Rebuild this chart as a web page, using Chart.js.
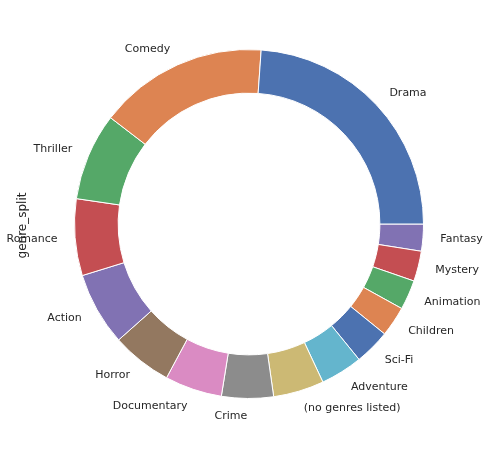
<!DOCTYPE html>
<html>
<head>
<meta charset="utf-8">
<script src="https://cdn.jsdelivr.net/npm/chart.js@4.4.1/dist/chart.umd.min.js"></script>
<style>
  html, body { margin: 0; padding: 0; background: #fff; }
  #wrap { width: 489px; height: 449px; position: relative; }
</style>
</head>
<body>
<div id="wrap"><canvas id="chart1"></canvas></div>
<script>
// genre share, in the order the slices go round (counter-clockwise from 3 o'clock)
const genres = ['Drama', 'Comedy', 'Thriller', 'Romance', 'Action', 'Horror', 'Documentary', 'Crime',
                '(no genres listed)', 'Adventure', 'Sci-Fi', 'Children', 'Animation', 'Mystery', 'Fantasy'];
const shares = [23.9, 15.7, 8.1, 7.1, 6.8, 5.6, 5.3, 4.8, 4.7, 3.9, 3.3, 2.8, 2.75, 2.8, 2.5];
const palette = ['#4C72B0', '#DD8452', '#55A868', '#C44E52', '#8172B3', '#937860', '#DA8BC3',
                 '#8C8C8C', '#CCB974', '#64B5CD'];
const axisLabel = 'genre_split';

const TextColor = '#262626';

// Chart.js goes clockwise, so feed it the list backwards
const colors = genres.map((g, i) => palette[i % palette.length]);
const revLabels = genres.slice().reverse();
const revData = shares.slice().reverse();
const revColors = colors.slice().reverse();

// labels outside the ring + rotated axis label on the left
const outsideLabels = {
  id: 'outsideLabels',
  afterDatasetsDraw(chart) {
    const ctx = chart.ctx;
    const meta = chart.getDatasetMeta(0);
    ctx.save();
    ctx.fillStyle = TextColor;
    ctx.font = '11px "DejaVu Sans"';
    ctx.textBaseline = 'middle';
    meta.data.forEach((arc, i) => {
      const p = arc.getProps(['x', 'y', 'startAngle', 'endAngle', 'outerRadius'], true);
      const mid = (p.startAngle + p.endAngle) / 2;
      const r = p.outerRadius * 1.1;
      const x = p.x + r * Math.cos(mid);
      const y = p.y + r * Math.sin(mid);
      ctx.textAlign = Math.cos(mid) >= 0 ? 'left' : 'right';
      ctx.fillText(chart.data.labels[i], x, y);
    });
    // y label
    ctx.font = '12px "DejaVu Sans"';
    ctx.translate(22.5, 225.5);
    ctx.rotate(-Math.PI / 2);
    ctx.textAlign = 'center';
    ctx.fillText(axisLabel, 0, 0);
    ctx.restore();
  }
};

const Chart1 = new Chart('chart1', {
  type: 'doughnut',
  data: {
    labels: revLabels,
    datasets: [{
      data: revData,
      backgroundColor: revColors,
      borderColor: '#ffffff',
      borderWidth: 1,
      hoverBorderWidth: 1,
      hoverOffset: 0
    }]
  },
  options: {
    responsive: true,
    maintainAspectRatio: false,
    animation: false,
    rotation: 90,
    cutout: '75%',
    layout: { padding: { top: 49, bottom: 50, left: 74, right: 65 } },
    plugins: {
      legend: { display: false },
      tooltip: { enabled: false }
    }
  },
  plugins: [outsideLabels]
});
</script>
</body>
</html>
